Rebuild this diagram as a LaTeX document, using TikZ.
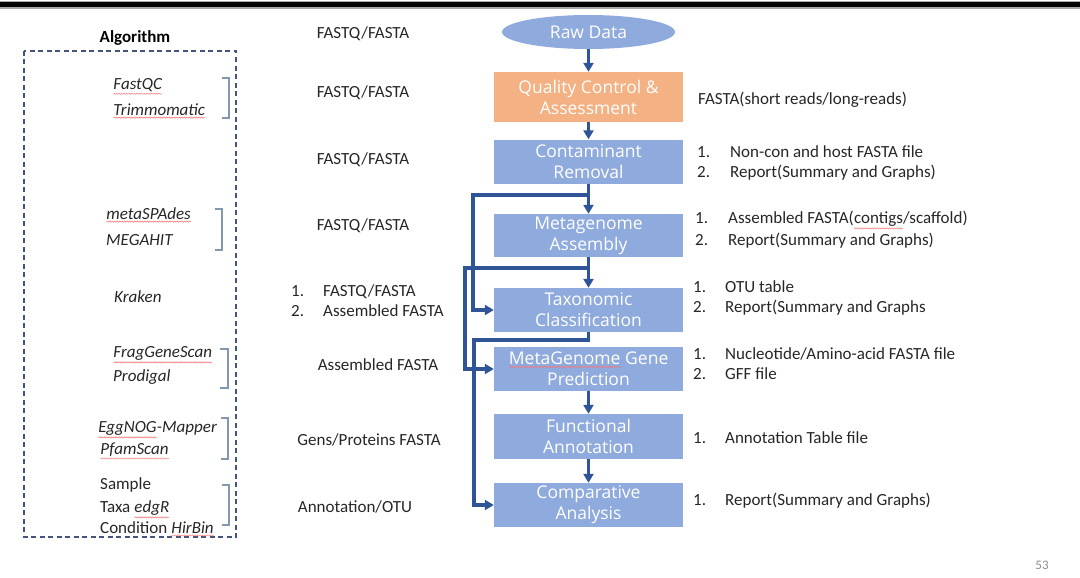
\documentclass[tikz,border=0pt]{standalone}
\usepackage{fontspec}
\setmainfont{Carlito}
\newfontfamily\boxfont{Open Sans}
\usetikzlibrary{shapes.geometric,arrows.meta,decorations.pathmorphing}
\definecolor{boxblue}{HTML}{8FAADC}
\definecolor{qcorange}{HTML}{F4B183}
\definecolor{arrblue}{HTML}{2F5597}
\definecolor{dashblue}{HTML}{44547A}
\definecolor{brk}{HTML}{8497B0}
\newcommand\squig[1]{\tikz[baseline=(w.base)]{\node[rectangle,draw=none,fill=none,inner sep=0pt,outer sep=0pt,minimum width=0pt,minimum height=0pt,text height=,text depth=,anchor=center](w){#1};\draw[red!55,line width=0.5pt,decorate,decoration={snake,amplitude=0.6pt,segment length=2.5pt}]([yshift=-2pt]w.south west)--([yshift=-2pt]w.south east);}}
\tikzset{
  stepbox/.style={rectangle,fill=boxblue,minimum width=189pt,minimum height=44pt,text=white,
    font=\boxfont\fontsize{17.5}{21}\selectfont,align=center,inner sep=0pt},
  arr/.style={draw=arrblue,line width=3.2pt,-{Triangle[length=9pt,width=10pt]}},
  ln/.style={draw=arrblue,line width=3.2pt},
  lab/.style={font=\fontsize{17}{20}\selectfont,inner sep=0pt,text=black!85,text height=14pt,text depth=3pt},
  alg/.style={font=\fontsize{17}{20}\selectfont\itshape,inner sep=0pt,anchor=west,text=black!85,text height=14pt,text depth=3pt},
  algn/.style={font=\fontsize{17}{20}\selectfont,inner sep=0pt,anchor=west,text=black!85,text height=14pt,text depth=3pt},
  brack/.style={draw=brk,line width=1.1pt},
}
\begin{document}
\begin{tikzpicture}[x=1pt,y=-1pt]
\useasboundingbox (0,0) rectangle (1080,578);
% top bar
\fill[black!35] (0,1) rectangle (1080,9);
\fill[black] (0,2.5) rectangle (1080,7.5);
% page number
\node[font=\fontsize{13}{15}\selectfont,text=black!45,inner sep=0pt] (pg) at (1042,565) {53};

% algorithm column
\node[font=\fontsize{17}{20}\selectfont\bfseries,inner sep=0pt,text height=14pt,text depth=3pt] (algt) at (135,37) {Algorithm};
\draw[dashblue,line width=1.5pt,dash pattern=on 5pt off 3.5pt] (24,51) rectangle (236,537);
\node[alg] (a1) at (113,84) {\squig{FastQC}};
\node[alg] (a2) at (113,110) {\squig{Trimmomatic}};
\draw[brack] (222,78) -- (229,78) -- (229,118) -- (222,118);
\node[alg] (a3) at (106,214) {\squig{metaSPAdes}};
\node[alg] (a4) at (106,240) {MEGAHIT};
\draw[brack] (215,209) -- (222,209) -- (222,250) -- (215,250);
\node[alg] (a5) at (114,297) {Kraken};
\node[alg] (a6) at (113,352) {\squig{FragGeneScan}};
\node[alg] (a7) at (113,376) {Prodigal};
\draw[brack] (220,349) -- (228,349) -- (228,388) -- (220,388);
\node[alg] (a8) at (98,427) {\squig{EggNOG}-Mapper};
\node[alg] (a9) at (100,449) {\squig{PfamScan}};
\draw[brack] (221,418) -- (228,418) -- (228,459) -- (221,459);
\node[algn] (a10) at (100,484) {Sample};
\node[algn] (a11) at (100,507) {Taxa \textit{\squig{edgR}}};
\node[algn] (a12) at (100,528) {Condition \textit{\squig{HirBin}}};
\draw[brack] (222,485) -- (229,485) -- (229,525) -- (222,525);

% input labels
\node[lab] (i1) at (363,33) {FASTQ/FASTA};
\node[lab] (i2) at (363,92) {FASTQ/FASTA};
\node[lab] (i3) at (363,159) {FASTQ/FASTA};
\node[lab] (i4) at (363,225) {FASTQ/FASTA};
\node[lab,anchor=west] (i5n) at (291,291) {1.};
\node[lab,anchor=west] (i5) at (323,291) {FASTQ/FASTA};
\node[lab,anchor=west] (i6n) at (291,311) {2.};
\node[lab,anchor=west] (i6) at (323,311) {Assembled FASTA};
\node[lab] (i7) at (378,365) {Assembled FASTA};
\node[lab] (i8) at (369,440) {Gens/Proteins FASTA};
\node[lab] (i9) at (355,507) {Annotation/OTU};

% flow boxes
\node[ellipse,fill=boxblue,minimum width=173pt,minimum height=34pt,inner sep=0pt,text=white,
  font=\boxfont\fontsize{17.5}{21}\selectfont] (raw) at (588.5,32) {Raw Data};
\node[stepbox,fill=qcorange,minimum height=50pt] (qc) at (588.5,97) {Quality Control \&\\Assessment};
\node[stepbox] (cr) at (588.5,161.5) {Contaminant\\Removal};
\node[stepbox,minimum height=43pt] (ma) at (588.5,235.5) {Metagenome\\Assembly};
\node[stepbox] (tc) at (588.5,310) {Taxonomic\\Classification};
\node[stepbox] (gp) at (588.5,369) {\squig{MetaGenome} Gene\\Prediction};
\node[stepbox,minimum height=45pt] (fa) at (588.5,436.5) {Functional\\Annotation};
\node[stepbox] (ca) at (588.5,505) {Comparative\\Analysis};

% connectors
\draw[arr] (raw.south) -- (qc.north);
\draw[arr] (qc.south) -- (cr.north);
\coordinate (j1) at (588.5,195);
\coordinate (l1) at (473,195);
\draw[ln] (cr.south) -- (j1);
\draw[arr] (j1) -- (ma.north);
\draw[arr] (j1) -- (l1) |- (tc.west);
\coordinate (j2) at (588.5,268);
\coordinate (l2) at (465,268);
\draw[ln] (ma.south) -- (j2);
\draw[arr] (j2) -- (tc.north);
\draw[arr] (j2) -- (l2) |- (gp.west);
\coordinate (j3) at (588.5,340);
\coordinate (l3) at (474,340);
\draw[arr] (tc.south) -- (j3) -- (l3) |- (ca.west);
\draw[arr] (gp.south) -- (fa.north);
\draw[arr] (fa.south) -- (ca.north);

% output labels
\node[lab,anchor=west] (o1) at (698,99) {FASTA(short reads/long-reads)};
\node[lab,anchor=west] (o2n) at (697,152) {1.};
\node[lab,anchor=west] (o2) at (730,152) {Non-con and host FASTA file};
\node[lab,anchor=west] (o3n) at (697,172) {2.};
\node[lab,anchor=west] (o3) at (730,172) {Report(Summary and Graphs)};
\node[lab,anchor=west] (o4n) at (695,218) {1.};
\node[lab,anchor=west] (o4) at (728,218) {Assembled FASTA(\squig{contigs}/scaffold)};
\node[lab,anchor=west] (o5n) at (695,240) {2.};
\node[lab,anchor=west] (o5) at (728,240) {Report(Summary and Graphs)};
\node[lab,anchor=west] (o6n) at (693,287) {1.};
\node[lab,anchor=west] (o6) at (725,287) {OTU table};
\node[lab,anchor=west] (o7n) at (693,307) {2.};
\node[lab,anchor=west] (o7) at (725,307) {Report(Summary and Graphs};
\node[lab,anchor=west] (o8n) at (693,354) {1.};
\node[lab,anchor=west] (o8) at (725,354) {Nucleotide/Amino-acid FASTA file};
\node[lab,anchor=west] (o9n) at (693,374) {2.};
\node[lab,anchor=west] (o9) at (725,374) {GFF file};
\node[lab,anchor=west] (o10n) at (693,438) {1.};
\node[lab,anchor=west] (o10) at (725,438) {Annotation Table file};
\node[lab,anchor=west] (o11n) at (693,500) {1.};
\node[lab,anchor=west] (o11) at (725,500) {Report(Summary and Graphs)};
\end{tikzpicture}
\end{document}
